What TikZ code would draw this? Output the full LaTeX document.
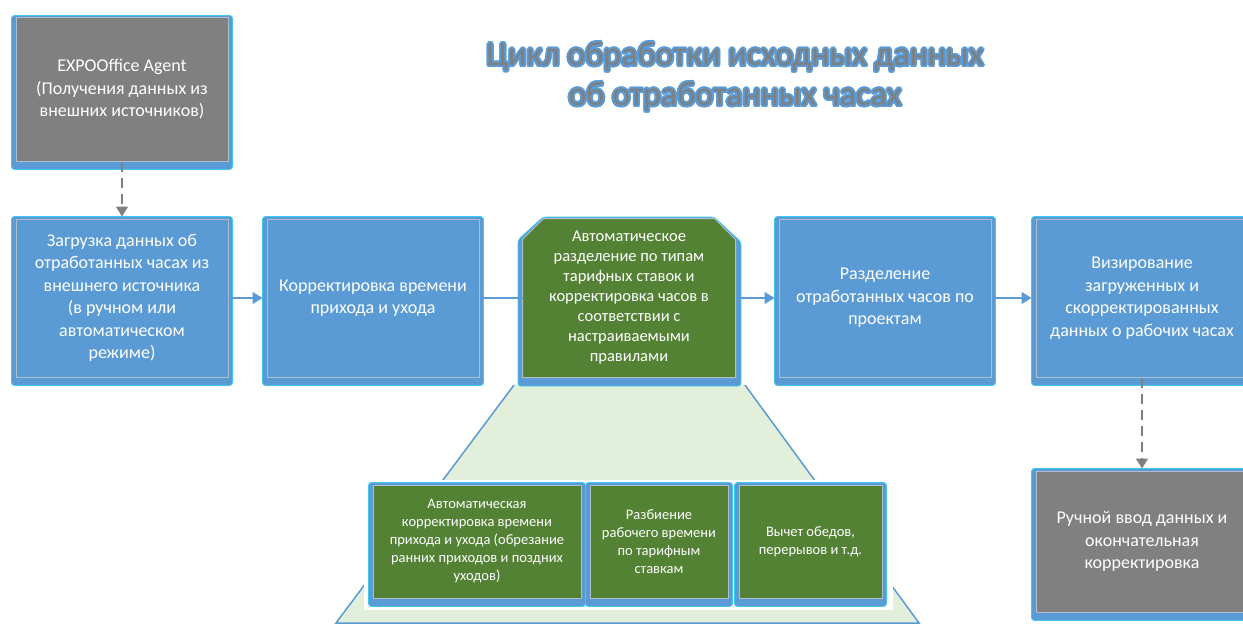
\documentclass[tikz,border=0pt]{standalone}
\usepackage{fontspec}
\setmainfont{Carlito}
\usepackage{contour}
\usetikzlibrary{arrows.meta}
\usetikzlibrary{positioning, backgrounds}

\definecolor{boxblue}{RGB}{91,155,213}
\definecolor{boxgreen}{RGB}{84,130,53}
\definecolor{boxgray}{RGB}{128,128,128}
\definecolor{edgegray}{RGB}{175,190,205}
\definecolor{glowcyan}{RGB}{60,200,240}
\definecolor{trapfill}{RGB}{226,239,218}
\definecolor{arrowgray}{RGB}{127,127,127}
\definecolor{titleblue}{RGB}{91,155,213}

\contourlength{2pt}
\contournumber{16}

\begin{document}
\begin{tikzpicture}[x=1pt,y=-1pt]

            \useasboundingbox (0,0) rectangle (1243,626);

            % Define styles
            \tikzstyle{panel} = [rectangle, draw=edgegray, line width=1pt, fill=boxblue, text=white, align=center, inner sep=0pt, minimum width=212pt, minimum height=158pt, font=\fontsize{18}{22.5}\selectfont]
            \tikzstyle{graypanel} = [panel, fill=boxgray, minimum height=143pt]
            \tikzstyle{greenpanel} = [panel, draw=none, fill=none, font=\fontsize{16.5}{20}\selectfont]
            \tikzstyle{smallpanel} = [panel, fill=boxgreen, minimum height=113pt, font=\fontsize{14.5}{18}\selectfont]
            \tikzstyle{frame} = [draw=glowcyan, line width=0.8pt, fill=boxblue, rounded corners=3pt]
            \tikzstyle{heading} = [text=arrowgray, align=center, font=\fontsize{34}{40}\selectfont]
            \tikzstyle{flow} = [draw=boxblue, line width=1.5pt, -{Triangle[length=10pt, width=12pt]}, shorten >=4pt]
            \tikzstyle{dashflow} = [draw=arrowgray, line width=1.5pt, dash pattern=on 10pt off 6pt, -{Triangle[length=10pt, width=12pt]}, shorten >=2pt]

            % Title
            \node[heading] (title) at (735,78) {\contour{titleblue}{Цикл обработки исходных данных}\\\contour{titleblue}{об отработанных часах}};

            % Sources
            \node[graypanel] (expo) at (122,89.5) {EXPOOffice Agent\\(Получения данных из\\внешних источников)};

            % Main steps
            \node[panel] (load) at (122,298) {Загрузка данных об\\отработанных часах из\\внешнего источника\\(в ручном или\\автоматическом\\режиме)};
            \node[panel] (correct) at (373,298) {Корректировка времени\\прихода и ухода};
            \node[greenpanel] (auto) at (629,298) {Автоматическое\\разделение по типам\\тарифных ставок и\\корректировка часов в\\соответствии с\\настраиваемыми\\правилами};
            \node[panel] (split) at (885,298) {Разделение\\отработанных часов по\\проектам};
            \node[panel] (visa) at (1142,298) {Визирование\\загруженных и\\скорректированных\\данных о рабочих часах};
            \node[graypanel, minimum height=141pt] (manual) at (1142,541.5) {Ручной ввод данных и\\окончательная\\корректировка};

            % Sub steps
            \node[smallpanel, minimum width=208pt] (sbA) at (477,541.5) {Автоматическая\\корректировка времени\\прихода и ухода (обрезание\\ранних приходов и поздних\\уходов)};
            \node[smallpanel, minimum width=138pt] (sbB) at (659,541.5) {Разбиение\\рабочего времени\\по тарифным\\ставкам};
            \node[smallpanel, minimum width=143pt] (sbC) at (810.5,541.5) {Вычет обедов,\\перерывов и т.д.};

            % Trapezoid and frames
            \begin{scope}[on background layer]
                \fill[trapfill] (514,385) -- (745,385) -- (919,623) -- (336,623) -- cycle;
                \draw[boxblue, line width=1.5pt] (514,385) -- (336,623) -- (919,623) -- (745,385);
                \fill[white] (364,480) rectangle (893,610);
                \foreach \n in {expo, load, correct, split, visa, manual, sbA, sbB, sbC}
                    \draw[frame] ([xshift=-4pt, yshift=2pt]\n.north west) rectangle ([xshift=4pt, yshift=-8pt]\n.south east);
                \draw[frame] (518,240) -- (543,217) -- (714,217) -- (741,242) -- (741,386) -- (518,386) -- cycle;
                \draw[fill=boxgreen, draw=edgegray, line width=1pt] (auto.south west) -- ([yshift=-21pt]auto.north west) -- ([xshift=21pt]auto.north west) -- ([xshift=-21pt]auto.north east) -- ([yshift=-21pt]auto.north east) -- (auto.south east) -- cycle;
            \end{scope}

            % Data Flows
            \draw[dashflow] (expo) -- (load);
            \draw[flow] (load) -- (correct);
            \draw[boxblue, line width=1.5pt] (correct) -- (auto);
            \draw[flow] (auto) -- (split);
            \draw[flow] (split) -- (visa);
            \draw[dashflow] (visa) -- (manual);

\end{tikzpicture}
\end{document}
